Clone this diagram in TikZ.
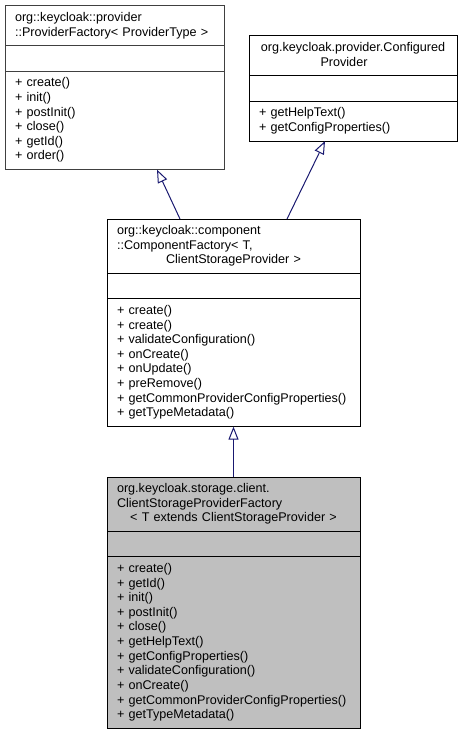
\documentclass[tikz,border=0pt]{standalone}
\usepackage{fontspec}
\setmainfont{Liberation Sans}
\usetikzlibrary{shapes.multipart,arrows.meta}
\definecolor{edgeblue}{HTML}{191970}
\definecolor{boxgray}{HTML}{404040}
\definecolor{nodefill}{HTML}{BFBFBF}
\newcommand{\umlfont}{\fontsize{12.6}{14.65}\selectfont}

\begin{document}
\begin{tikzpicture}[x=1pt,y=-1pt,
  cls/.style={draw, line width=1pt, rectangle split, rectangle split parts=3, text width=#1,
    inner xsep=10pt, inner ysep=4.8pt, align=left, outer sep=0pt, anchor=north west, font=\umlfont},
  isa/.style={draw=edgeblue, line width=1pt, -{Triangle[open,length=13pt,width=10pt]}}]
\useasboundingbox (0,0) rectangle (463,735);
\node[cls=199pt, draw=boxgray] (npf) at (5,6) {\strut org::keycloak::provider\\::ProviderFactory< ProviderType >\strut
  \nodepart{second}\strut
  \nodepart{third}\strut + create()\\+ init()\\+ postInit()\\+ close()\\+ getId()\\+ order()\strut};
\node[cls=188pt] (ncp) at (249,36) {\strut\hfill org.keycloak.provider.Configured\hfill\null\\\hfill Provider\hspace{18pt}\hfill\null\strut
  \nodepart{second}\strut
  \nodepart{third}\strut + getHelpText()\\+ getConfigProperties()\strut};
\node[cls=233pt] (ncf) at (107,219) {\strut org::keycloak::component\\::ComponentFactory< T,\\\hfill ClientStorageProvider >\hfill\null\strut
  \nodepart{second}\strut
  \nodepart{third}\strut + create()\\+ create()\\+ validateConfiguration()\\+ onCreate()\\+ onUpdate()\\+ preRemove()\\+ getCommonProviderConfigProperties()\\+ getTypeMetadata()\strut};
\node[cls=233pt, fill=nodefill] (ncs) at (107,477) {\strut org.keycloak.storage.client.\\ClientStorageProviderFactory\\\hfill< T extends ClientStorageProvider >\hfill\null\strut
  \nodepart{second}\strut
  \nodepart{third}\strut + create()\\+ getId()\\+ init()\\+ postInit()\\+ close()\\+ getHelpText()\\+ getConfigProperties()\\+ validateConfiguration()\\+ onCreate()\\+ getCommonProviderConfigProperties()\\+ getTypeMetadata()\strut};
\path ([xshift=73pt]ncf.north west) edge[isa] ([xshift=152pt]npf.south west)
([xshift=180pt]ncf.north west) edge[isa] ([xshift=76pt]ncp.south west)
(ncs.north) edge[isa] (ncf.south);
\end{tikzpicture}
\end{document}
